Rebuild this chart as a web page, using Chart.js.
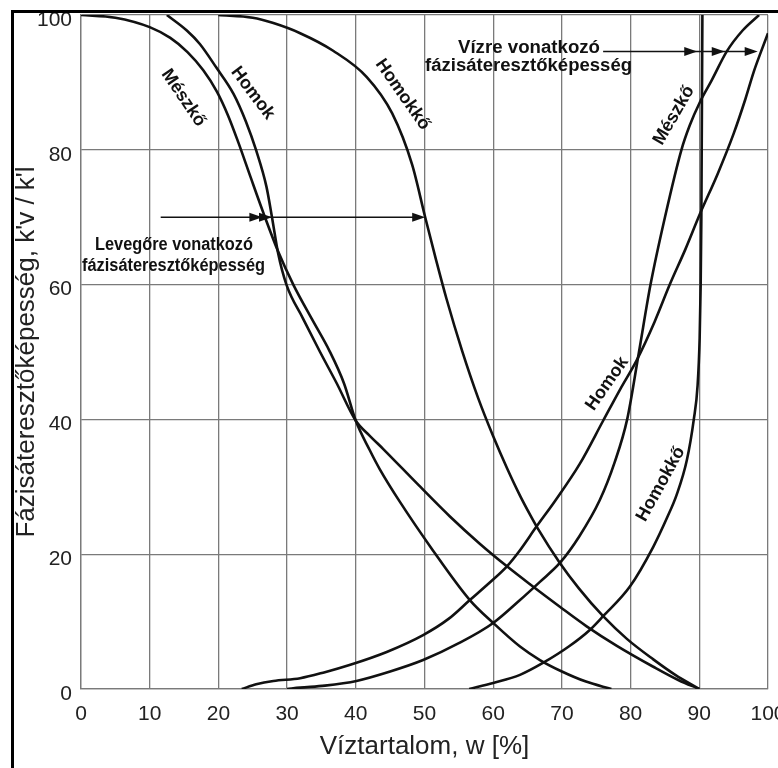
<!DOCTYPE html>
<html>
<head>
<meta charset="utf-8">
<script src="https://cdn.jsdelivr.net/npm/chart.js@4.4.1/dist/chart.umd.min.js"></script>
<style>
  html, body { margin: 0; padding: 0; background: #fff; }
  #wrap { width: 778px; height: 768px; }
</style>
</head>
<body>
<div id="wrap"><canvas id="myChart" width="778" height="768"></canvas></div>
<script>
// Víztartalom w [%] -> fázisáteresztőképesség [%]
// levegőre vonatkozó görbék (csökkenők)
const meszkoLevegoW = [0, 5, 10, 13, 15.5, 17.8, 19.8, 21.4, 22.9, 24.7, 26.6, 28.7, 30.9, 33.6, 36.2, 38.3, 40, 42, 43.5, 46.4, 51, 56.6, 60, 63.9, 66.8, 70, 73.5, 77.2];
const meszkoLevegoK = [100, 99.6, 98.2, 96.6, 94.5, 91.8, 88.6, 85.1, 81.1, 75.9, 70.5, 64.9, 60, 54.9, 50.1, 45.3, 39.8, 35.5, 32.6, 27.8, 20.9, 13.2, 9.8, 6.3, 4.3, 2.6, 1.1, 0];

const homokLevegoW = [12.5, 15.4, 17.3, 19.7, 22.2, 24, 25.5, 27, 27.8, 28.7, 29.9, 32.3, 34.8, 37.2, 40, 42, 44, 48.9, 53.7, 58, 62, 65.4, 69.7, 73.6, 78, 83.3, 87, 90];
const homokLevegoK = [100, 97.7, 95.7, 92.2, 88.3, 84.2, 79.9, 74.5, 70, 64.6, 60, 55, 50, 45.4, 39.8, 37.6, 35.6, 30.5, 25.6, 21.6, 18.2, 15.5, 12.2, 9.3, 6.4, 3.3, 1.3, 0];

const homokkoLevegoW = [20, 25, 28, 31.9, 36.7, 41.6, 45.3, 48.2, 50.1, 51.7, 53.2, 55.5, 57.8, 60, 62, 63.9, 65.4, 66.5, 69.7, 72.5, 76, 79.5, 83.3, 86.5, 90];
const homokkoLevegoK = [100, 99.6, 98.8, 97.3, 94.7, 90.8, 85.4, 77.8, 70, 63.6, 57.9, 50.1, 43.2, 37.5, 32.8, 28.7, 25.8, 23.8, 18.7, 14.9, 10.8, 7.4, 4.4, 2.1, 0];

// vízre vonatkozó görbék (növekvők)
const homokVizW = [23.4, 25.5, 28, 31.9, 35.5, 39.2, 44.5, 49.8, 53.5, 56.6, 59.5, 62, 63.9, 66.3, 69, 72.6, 76, 78.5, 80.9, 83.5, 85.7, 88, 90.1, 92.7, 95, 96.7, 97.9, 99, 100];
const homokVizK = [0, 0.7, 1.2, 1.6, 2.5, 3.6, 5.5, 8, 10.4, 13.2, 15.8, 18.2, 20.6, 24.1, 27.9, 33.4, 39.8, 44.5, 48.8, 54.5, 60, 65.3, 70.5, 76.5, 82.4, 87.5, 91.5, 94.6, 97.3];

const meszkoVizW = [30, 31.9, 35.5, 40.1, 45, 49.8, 55, 60, 63.9, 66.8, 69.7, 72.5, 75.5, 77.7, 79.5, 81.2, 82.9, 85, 87.4, 88.6, 90.1, 91.8, 94, 96.3, 98.7];
const meszkoVizK = [0, 0.2, 0.5, 1.2, 2.6, 4.3, 6.8, 9.8, 13.2, 15.9, 18.7, 22.6, 28, 33.7, 40, 49.9, 60, 70, 80, 83.6, 87.1, 90.3, 94.6, 97.7, 100];

const homokkoVizW = [56.5, 60, 63.9, 67.3, 71, 74.1, 76, 79.9, 83.3, 85.3, 86.7, 88.2, 89.2, 89.75, 90.05, 90.2, 90.3, 90.35, 90.4, 90.45];
const homokkoVizK = [0, 0.9, 2.1, 3.9, 6.3, 8.8, 10.8, 15.2, 21.1, 25.4, 28.8, 34, 40, 45, 52, 60, 70, 80, 90, 100];

const xTicks = [0, 10, 20, 30, 40, 50, 60, 70, 80, 90, 100];
const yTicks = [0, 20, 40, 60, 80, 100];

const xTitle = "Víztartalom, w [%]";
const yTitle = "Fázisáteresztőképesség, k'v / k'l";

// feliratok a görbék mentén (adat-koordinátákban)
const curveLabels = [
  { text: "Mészkő", w: 14.9, k: 87.7, angle: 56 },
  { text: "Homok", w: 25.0, k: 88.4, angle: 53 },
  { text: "Homokkő", w: 46.8, k: 88.2, angle: 55 },
  { text: "Mészkő", w: 86.3, k: 85.1, angle: -60 },
  { text: "Homok", w: 76.6, k: 45.3, angle: -55 },
  { text: "Homokkő", w: 84.4, k: 30.4, angle: -61 },
];

// nyilak
const levegoNyil = { from: 11.6, k: 70, tips: [26.4, 27.8, 50.1] };
const vizNyil = { from: 76, k: 94.6, tips: [89.7, 93.7, 98.5] };

const toPts = (ws, ks) => ws.map((w, i) => ({ x: w, y: ks[i] }));

function fitText(ctx, text, x, y, width) {
  const w = ctx.measureText(text).width;
  ctx.save();
  ctx.translate(x, y);
  ctx.scale(width / w, 1);
  ctx.fillText(text, 0, 0);
  ctx.restore();
}

function arrowHead(ctx, x, y) {
  ctx.beginPath();
  ctx.moveTo(x, y);
  ctx.lineTo(x - 13, y - 4.5);
  ctx.lineTo(x - 13, y + 4.5);
  ctx.closePath();
  ctx.fill();
}

const decorPlugin = {
  id: "decor",
  beforeDraw(chart) {
    const ctx = chart.ctx;
    ctx.save();
    ctx.fillStyle = "#ffffff";
    ctx.fillRect(0, 0, chart.width, chart.height);
    ctx.restore();
  },
  afterDatasetsDraw(chart) {
    const ctx = chart.ctx;
    const xs = chart.scales.x;
    const ys = chart.scales.y;
    const { left, right, top, bottom } = chart.chartArea;
    ctx.save();
    ctx.fillStyle = "#111";
    ctx.strokeStyle = "#111";

    // nyilak
    [levegoNyil, vizNyil].forEach((a) => {
      const y = ys.getPixelForValue(a.k);
      const last = a.tips[a.tips.length - 1];
      ctx.lineWidth = 1.5;
      ctx.beginPath();
      ctx.moveTo(xs.getPixelForValue(a.from), y);
      ctx.lineTo(xs.getPixelForValue(last) - 4, y);
      ctx.stroke();
      a.tips.forEach((t) => arrowHead(ctx, xs.getPixelForValue(t), y));
    });

    // nyilak szövegei
    ctx.font = "bold 18px 'Liberation Sans', Arial, sans-serif";
    ctx.textAlign = "left";
    ctx.textBaseline = "alphabetic";
    fitText(ctx, "Levegőre vonatkozó", 95, 250, 158);
    fitText(ctx, "fázisáteresztőképesség", 82, 271, 183);
    fitText(ctx, "Vízre vonatkozó", 458, 53, 142);
    fitText(ctx, "fázisáteresztőképesség", 425, 71, 207);

    // görbék feliratai
    ctx.textAlign = "center";
    ctx.textBaseline = "middle";
    curveLabels.forEach((l) => {
      ctx.save();
      ctx.translate(xs.getPixelForValue(l.w), ys.getPixelForValue(l.k));
      ctx.rotate((l.angle * Math.PI) / 180);
      ctx.fillText(l.text, 0, 0);
      ctx.restore();
    });

    // tengelyfeliratok
    ctx.fillStyle = "#222";
    ctx.font = "26px 'Liberation Sans', Arial, sans-serif";
    ctx.textAlign = "center";
    ctx.textBaseline = "middle";
    ctx.fillText(xTitle, (left + right) / 2, 747);
    ctx.save();
    ctx.translate(33.5, (top + bottom) / 2);
    ctx.rotate(-Math.PI / 2);
    ctx.textBaseline = "alphabetic";
    ctx.fillText(yTitle, 0, 0);
    ctx.restore();

    // keret
    ctx.fillStyle = "#000";
    ctx.fillRect(11, 10, 3, chart.height - 10);
    ctx.fillRect(11, 10, chart.width - 11, 3);
    ctx.restore();
  },
};

const curve = (ws, ks) => ({
  data: toPts(ws, ks),
  showLine: true,
  borderColor: "#111",
  borderWidth: 2.6,
  pointRadius: 0,
  cubicInterpolationMode: "monotone",
  fill: false,
});

const gridColor = "#7a7a7a";
const tickFont = { family: "'Liberation Sans', Arial, sans-serif", size: 21 };

new Chart(document.getElementById("myChart").getContext("2d"), {
  type: "scatter",
  data: {
    datasets: [
      curve(meszkoLevegoW, meszkoLevegoK),
      curve(homokLevegoW, homokLevegoK),
      curve(homokkoLevegoW, homokkoLevegoK),
      curve(homokVizW, homokVizK),
      curve(meszkoVizW, meszkoVizK),
      curve(homokkoVizW, homokkoVizK),
    ],
  },
  options: {
    responsive: false,
    animation: false,
    layout: { padding: { left: 0, right: 10, top: 15, bottom: 0 } },
    plugins: { legend: { display: false }, tooltip: { enabled: false } },
    scales: {
      x: {
        type: "linear",
        min: 0,
        max: 100,
        afterBuildTicks: (s) => { s.ticks = xTicks.map((v) => ({ value: v })); },
        afterFit: (s) => { s.height = 79; s.paddingLeft = 0; s.paddingRight = 0; },
        grid: { color: gridColor, lineWidth: 1.3, drawTicks: false },
        border: { color: gridColor, width: 1.3 },
        ticks: { color: "#222", font: tickFont, padding: 13, maxRotation: 0 },
      },
      y: {
        type: "linear",
        min: 0,
        max: 100,
        afterBuildTicks: (s) => { s.ticks = yTicks.map((v) => ({ value: v })); },
        afterFit: (s) => { s.width = 81; s.paddingTop = 0; s.paddingBottom = 0; },
        grid: { color: gridColor, lineWidth: 1.3, drawTicks: false },
        border: { color: gridColor, width: 1.3 },
        ticks: { color: "#222", font: tickFont, padding: 9, labelOffset: 5 },
      },
    },
  },
  plugins: [decorPlugin],
});
</script>
</body>
</html>
